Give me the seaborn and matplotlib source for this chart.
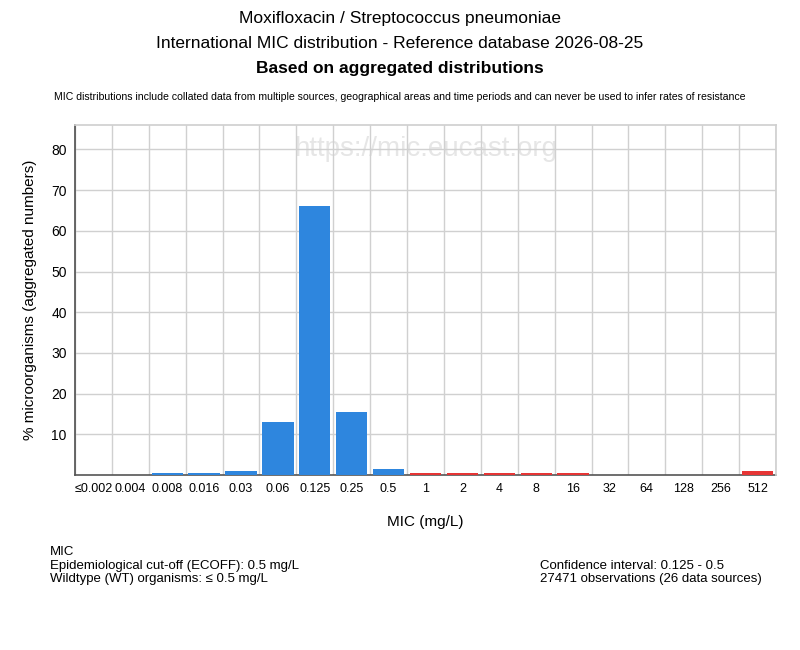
import matplotlib
matplotlib.use("Agg")
import matplotlib.pyplot as plt
import seaborn as sns
import pandas as pd

mic_labels = ["≤0.002", "0.004", "0.008", "0.016", "0.03", "0.06", "0.125", "0.25", "0.5",
              "1", "2", "4", "8", "16", "32", "64", "128", "256", "512"]
percent = [0.0, 0.0, 0.4, 0.4, 0.9, 13.0, 66.0, 15.4, 1.4,
           0.4, 0.6, 0.4, 0.4, 0.4, 0.0, 0.0, 0.0, 0.0, 1.1]
group = ["WT"] * 9 + ["NWT"] * 10
colors = {"WT": "#2E86DE", "NWT": "#E63535"}
y_ticks = [10, 20, 30, 40, 50, 60, 70, 80]

df = pd.DataFrame({"mic": mic_labels, "pct": percent, "grp": group})

sns.set_theme(style="white")
plt.rcParams["font.family"] = ["Liberation Sans", "DejaVu Sans"]
plt.rcParams["text.color"] = "black"
plt.rcParams["axes.labelcolor"] = "black"
plt.rcParams["xtick.color"] = "black"
plt.rcParams["ytick.color"] = "black"

fig = plt.figure(figsize=(8, 6.5), dpi=100)
ax = fig.add_axes([75/800, 175/650, 701/800, 350/650])

sns.barplot(data=df, x="mic", y="pct", hue="grp", palette=colors, dodge=False,
            width=0.85, legend=False, ax=ax, order=mic_labels, saturation=1,
            linewidth=0, edgecolor="none")
for p in ax.patches:
    p.set_zorder(3)

ax.set_ylim(0, 86)
ax.set_xlim(-0.5, len(mic_labels) - 0.5)
ax.set_yticks(y_ticks)
ax.set_yticklabels([str(t) for t in y_ticks], fontsize=10)
ax.set_xticks(range(len(mic_labels)))
ax.set_xticklabels(mic_labels, fontsize=9)
ax.tick_params(axis="both", length=0, pad=6)
for t in y_ticks:
    ax.axhline(t, color="#d0d0d0", lw=1, zorder=0.6)
for i in range(len(mic_labels) + 1):
    ax.axvline(i - 0.5, color="#d0d0d0", lw=1, zorder=0.6)
for s in ["top", "right"]:
    ax.spines[s].set_color("#d0d0d0")
ax.spines["left"].set_color("#555555")
ax.spines["bottom"].set_color("#555555")
ax.spines["bottom"].set_linewidth(1.2)
ax.spines["bottom"].set_zorder(2)

ax.set_xlabel("MIC (mg/L)", fontsize=11, labelpad=14)
ax.set_ylabel("% microorganisms (aggregated numbers)", fontsize=11, labelpad=10)

ax.text(0.5, 0.93, "https://mic.eucast.org", transform=ax.transAxes, ha="center", va="center",
        fontsize=20, color="#e6e6e6", zorder=0.5)

fig.text(0.5, 1 - 18/650, "Moxifloxacin / Streptococcus pneumoniae", ha="center", va="center", fontsize=12.5)
fig.text(0.5, 1 - 44/650, "International MIC distribution - Reference database 2026-08-25", ha="center", va="center", fontsize=12.5)
fig.text(0.5, 1 - 69/650, "Based on aggregated distributions", ha="center", va="center", fontsize=12.5, fontweight="bold")
fig.text(0.5, 1 - 97/650, "MIC distributions include collated data from multiple sources, geographical areas and time periods and can never be used to infer rates of resistance",
         ha="center", va="center", fontsize=7.6)

fig.text(50/800, 1 - 552/650, "MIC", ha="left", va="center", fontsize=9.5)
fig.text(50/800, 1 - 566/650, "Epidemiological cut-off (ECOFF): 0.5 mg/L", ha="left", va="center", fontsize=9.5)
fig.text(50/800, 1 - 579/650, "Wildtype (WT) organisms: ≤ 0.5 mg/L", ha="left", va="center", fontsize=9.5)
fig.text(540/800, 1 - 566/650, "Confidence interval: 0.125 - 0.5", ha="left", va="center", fontsize=9.5)
fig.text(540/800, 1 - 579/650, "27471 observations (26 data sources)", ha="left", va="center", fontsize=9.5)

fig.savefig("out.png", dpi=100, facecolor="white")
